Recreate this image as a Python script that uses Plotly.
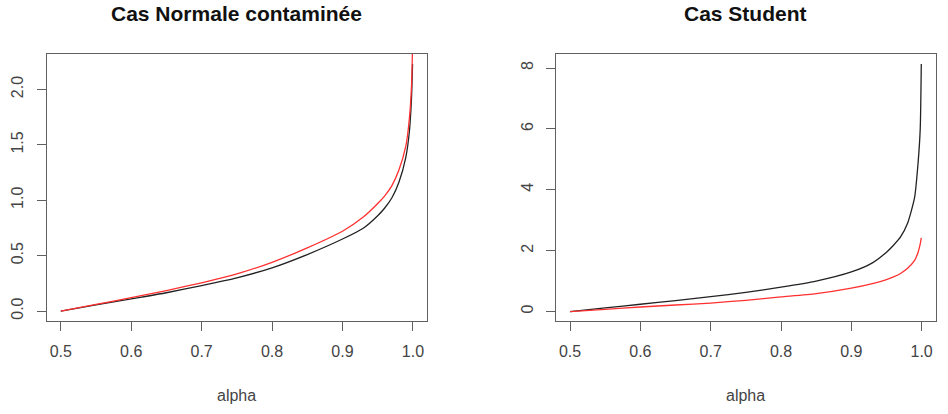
import plotly.graph_objects as go

# ---- data ----
alpha = [0.5, 0.55, 0.6, 0.65, 0.7, 0.75, 0.8, 0.85, 0.9, 0.93, 0.95, 0.96,
         0.97, 0.98, 0.99, 0.995, 0.998, 0.9995]

# Panel 1: "Cas Normale contaminée"
normal_black = [0, 0.055, 0.11, 0.165, 0.23, 0.30, 0.39, 0.51, 0.65, 0.75, 0.86, 0.93,
                1.02, 1.16, 1.39, 1.62, 1.92, 2.23]
normal_red = [0, 0.06, 0.12, 0.185, 0.255, 0.335, 0.44, 0.57, 0.72, 0.85, 0.97, 1.04,
              1.13, 1.27, 1.49, 1.74, 2.03, 2.40]

# Panel 2: "Cas Student"
student_black = [0, 0.12, 0.24, 0.36, 0.49, 0.63, 0.80, 1.00, 1.30, 1.60, 1.95, 2.18,
                 2.45, 2.90, 3.75, 4.9, 6.0, 8.13]
student_red = [0, 0.07, 0.15, 0.215, 0.28, 0.37, 0.48, 0.59, 0.77, 0.92, 1.05, 1.14,
               1.25, 1.42, 1.68, 1.95, 2.22, 2.42]

x_ticks = [0.5, 0.6, 0.7, 0.8, 0.9, 1.0]
x_ticktext = ["0.5", "0.6", "0.7", "0.8", "0.9", "1.0"]
y1_ticks = [0.0, 0.5, 1.0, 1.5, 2.0]
y1_ticktext = ["0.0", "0.5", "1.0", "1.5", "2.0"]
y2_ticks = [0, 2, 4, 6, 8]
y2_ticktext = ["0", "2", "4", "6", "8"]

titles = ["Cas Normale contaminée", "Cas Student"]
xlabel = "alpha"

# ---- styling ----
W, H = 948, 414
FONT = "Liberation Sans, Arial, sans-serif"
BLACK = "#222222"
RED = "#ff3030"
AXC = "#606060"
TICKFONT = dict(family=FONT, size=16, color="#444444")
LINE_W = 1.3

fig = go.Figure()
for xa, ya, yb, yr in [("x", "y", normal_black, normal_red),
                       ("x2", "y2", student_black, student_red)]:
    fig.add_trace(go.Scatter(x=alpha, y=yb, mode="lines",
                             line=dict(color=BLACK, width=LINE_W, shape="spline", smoothing=0.6),
                             xaxis=xa, yaxis=ya))
    fig.add_trace(go.Scatter(x=alpha, y=yr, mode="lines",
                             line=dict(color=RED, width=LINE_W, shape="spline", smoothing=0.6),
                             xaxis=xa, yaxis=ya))

# panel boxes in pixels
left_box = (46.7, 427.0)
right_box = (556.0, 935.7)
y_dom = [1 - 321 / H, 1 - 54 / H]

common_x = dict(range=[0.48, 1.02], tickvals=x_ticks, ticktext=x_ticktext,
                ticks="outside", ticklen=9, tickcolor=AXC, tickwidth=1,
                showline=True, mirror=True, linecolor=AXC, linewidth=1,
                showgrid=False, zeroline=False, tickfont=TICKFONT,
                ticklabelstandoff=7, fixedrange=True)
common_y = dict(ticks="outside", ticklen=9, tickcolor=AXC, tickwidth=1,
                showline=True, mirror=True, linecolor=AXC, linewidth=1,
                showgrid=False, zeroline=False, tickfont=TICKFONT,
                tickangle=-90, ticklabelstandoff=7, fixedrange=True)

fig.update_layout(
    width=W, height=H,
    margin=dict(l=0, r=0, t=0, b=0),
    paper_bgcolor="white", plot_bgcolor="white",
    showlegend=False,
    xaxis=dict(domain=[left_box[0] / W, left_box[1] / W], anchor="y", **common_x),
    yaxis=dict(domain=y_dom, anchor="x", range=[-0.09, 2.32],
               tickvals=y1_ticks, ticktext=y1_ticktext, **common_y),
    xaxis2=dict(domain=[right_box[0] / W, right_box[1] / W], anchor="y2", **common_x),
    yaxis2=dict(domain=y_dom, anchor="x2", range=[-0.31, 8.46],
                tickvals=y2_ticks, ticktext=y2_ticktext, **common_y),
)

annotations = []
for xr, t in zip(["x domain", "x2 domain"], titles):
    annotations.append(dict(text="<b>%s</b>" % t, xref=xr, x=0.5, yref="paper",
                            y=1 - 13 / H, xanchor="center", yanchor="middle",
                            showarrow=False,
                            font=dict(family=FONT, size=21, color="#111111")))
    annotations.append(dict(text=xlabel, xref=xr, x=0.5, yref="paper",
                            y=1 - 395 / H, xanchor="center", yanchor="middle",
                            showarrow=False,
                            font=dict(family=FONT, size=16, color="#444444")))
fig.update_layout(annotations=annotations)

fig.write_html("out.html")
